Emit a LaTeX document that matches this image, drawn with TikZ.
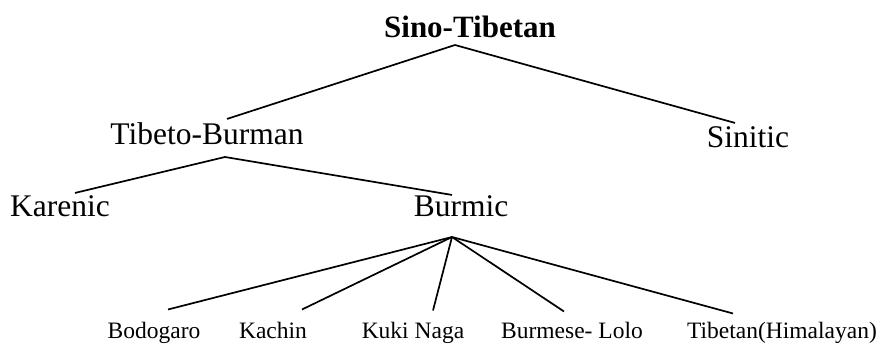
\documentclass[tikz,border=0pt]{standalone}
\usepackage{fontspec}
\setmainfont{Liberation Serif}

\begin{document}
\begin{tikzpicture}[
        x=1pt, y=-1pt,
        % Label styles
        rootlbl/.style={inner sep=0pt, anchor=base, font=\fontsize{31}{36}\selectfont\bfseries},
        grouplbl/.style={inner sep=0pt, anchor=base, font=\fontsize{31.5}{36}\selectfont},
        leaflbl/.style={inner sep=0pt, anchor=base, font=\fontsize{23.5}{28}\selectfont},
        branch/.style={draw, line width=1.7pt}
    ]
    \useasboundingbox (0,0) rectangle (884,347);

    % --- ROOT NODE ---
    \node (sino) [rootlbl] at (470,38) {Sino-Tibetan};

    % --- LEVEL 1 ---
    \node (tibbur) [grouplbl] at (207,145) {Tibeto-Burman};
    \node (sinitic) [grouplbl] at (748,148) {Sinitic};

    % --- LEVEL 2 ---
    \node (karenic) [grouplbl] at (60,217) {Karenic};
    \node (burmic) [grouplbl] at (461,217) {Burmic};

    % --- LEVEL 3: BURMIC CHILDREN ---
    \node (bodo) [leaflbl] at (154,339) {Bodogaro};
    \node (kachin) [leaflbl] at (273,339) {Kachin};
    \node (kuki) [leaflbl] at (413,339) {Kuki Naga};
    \node (burlolo) [leaflbl] at (572,339) {Burmese- Lolo};
    \node (tibhim) [leaflbl] at (782,339) {Tibetan(Himalayan)};

    % --- BRANCH POINTS ---
    \coordinate (sino-j) at (455,45);
    \coordinate (tibbur-j) at (225,157);
    \coordinate (burmic-j) at (452,237);

    % --- DRAWING THE BRANCHES ---
    \draw [branch] (sino-j) -- ([shift={(20,-4)}]tibbur.north);
    \draw [branch] (sino-j) -- ([shift={(-13,-4)}]sinitic.north);

    \draw [branch] (tibbur-j) -- ([shift={(15,-3)}]karenic.north);
    \draw [branch] (tibbur-j) -- ([shift={(-9,-1)}]burmic.north);

    \draw [branch] (burmic-j) -- ([shift={(14,-13)}]bodo.north);
    \draw [branch] (burmic-j) -- ([shift={(29,-13)}]kachin.north);
    \draw [branch] (burmic-j) -- ([shift={(20,-12)}]kuki.north);
    \draw [branch] (burmic-j) -- ([shift={(-8,-11)}]burlolo.north);
    \draw [branch] (burmic-j) -- ([shift={(-49,-9)}]tibhim.north);

\end{tikzpicture}
\end{document}
